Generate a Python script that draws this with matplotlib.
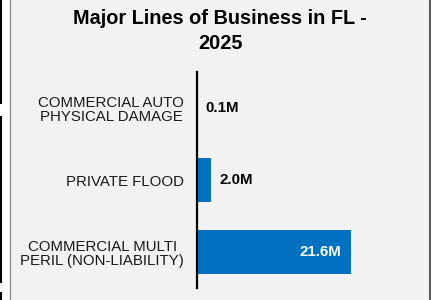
import matplotlib.pyplot as plt
from matplotlib.patches import Rectangle

plt.rcParams['font.family'] = ['Liberation Sans', 'DejaVu Sans']

# === Data ===
title = "Major Lines of Business in FL -\n2025"
categories = [
    "COMMERCIAL AUTO\nPHYSICAL DAMAGE",
    "PRIVATE FLOOD",
    "COMMERCIAL MULTI\nPERIL (NON-LIABILITY)",
]
values = [0.1, 2.0, 21.6]  # millions
bar_color = "#0070C0"

W, H = 434, 300
fig = plt.figure(figsize=(W / 100, H / 100), dpi=100, facecolor="white")

# background axes for the panel and its side borders
bg = fig.add_axes([0, 0, 1, 1], zorder=-1)
bg.set_xlim(0, W)
bg.set_ylim(H, 0)
bg.axis("off")
bg.add_patch(Rectangle((9, 0), 421, H, facecolor="#f2f2f2", edgecolor="none"))
bg.plot([9.5, 9.5], [0, H], color="#8c8c8c", lw=0.9)
bg.plot([429.5, 429.5], [0, H], color="#3c3c3c", lw=1.2)
# cut-off neighbour edge on the far left
for y0, y1 in [(0, 104), (116, 283), (292, 300)]:
    bg.plot([1, 1], [y0, y1], color="black", lw=1.5, solid_capstyle="butt")

ax = fig.add_axes([196.5 / W, 12 / H, 214 / W, 216 / H])
ax.set_facecolor("none")

ypos = list(range(len(categories)))
bars = ax.barh(ypos, values, height=0.6, color=bar_color)
ax.set_ylim(len(categories) - 0.5, -0.5)
ax.set_xlim(0, 30)

ax.set_yticks(ypos)
ax.set_yticklabels(categories, fontsize=10.8, color="#1a1a1a", multialignment="center",
                   linespacing=1.05)
ax.tick_params(axis="y", length=0, pad=9)
ax.set_xticks([])
for s in ["top", "right", "bottom"]:
    ax.spines[s].set_visible(False)
ax.spines["left"].set_linewidth(1.6)
ax.spines["left"].set_color("black")

for v, y in zip(values, ypos):
    if v > 10:
        ax.text(v - 1.3, y, f"{v:.1f}M", ha="right", va="center", color="white",
                fontsize=10.8, fontweight="bold")
    else:
        ax.text(v + 1.2, y, f"{v:.1f}M", ha="left", va="center", color="black",
                fontsize=10.8, fontweight="bold")

fig.text(220 / W, 1 - 31 / H, title, ha="center", va="center", fontsize=14.3,
         fontweight="bold", linespacing=1.35)

fig.savefig("out.png", dpi=100)
